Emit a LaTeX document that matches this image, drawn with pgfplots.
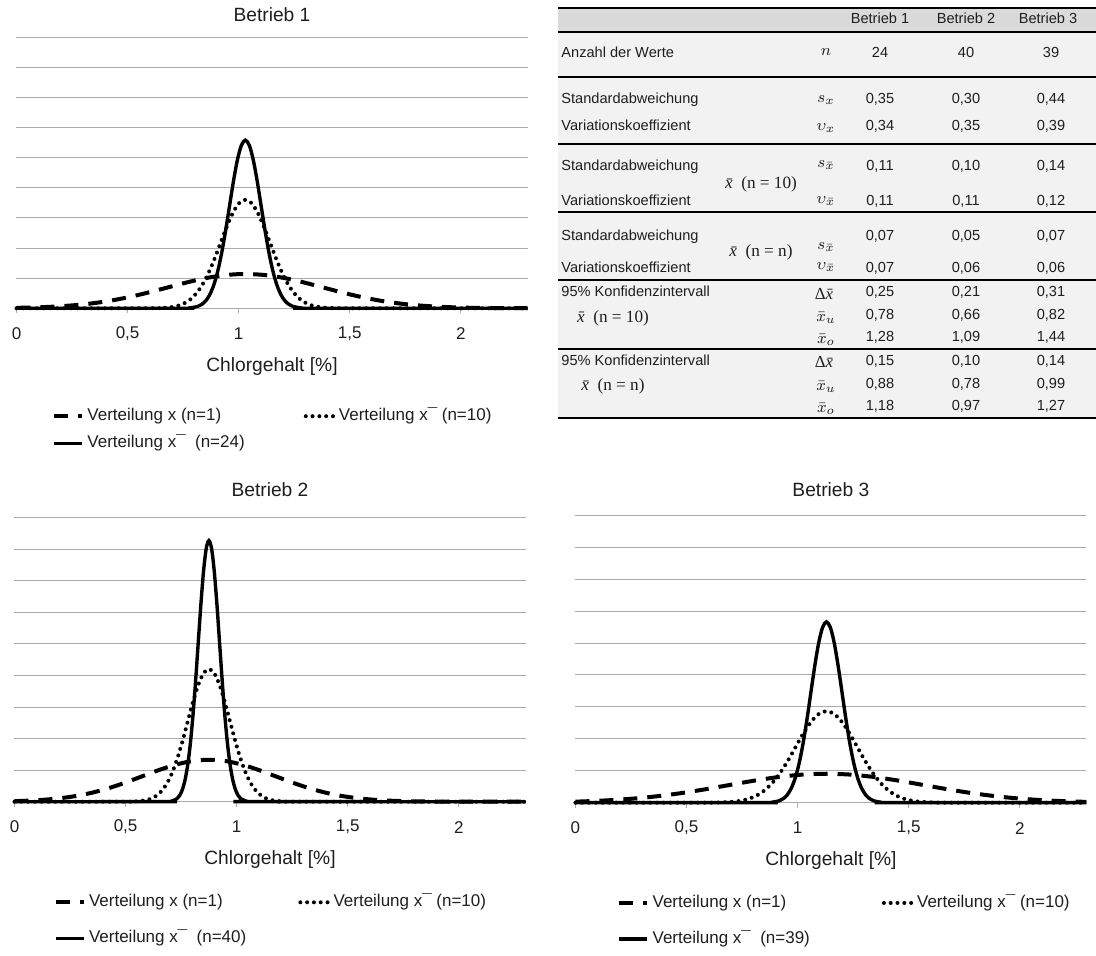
\documentclass[border=0pt]{standalone}
\usepackage{fontspec}
\setmainfont{Liberation Sans}
\newfontfamily\serifm{Liberation Serif}
\usepackage{pgfplots}
\pgfplotsset{compat=1.18}
\newcommand\titlefont{\fontsize{9.6}{11}\selectfont}
\newcommand\tickfont{\fontsize{8.5}{10}\selectfont}
\newcommand\tabfont{\fontsize{7.3}{8.5}\selectfont}
\newcommand\symfont{\fontsize{8.2}{9}\selectfont}
\newcommand\xb[1]{{\fontsize{8.6}{9}\selectfont\serifm\textit{x̄} (n = #1)}}
\newcommand\dxb{{\fontsize{8.4}{9}\selectfont\serifm Δ\textit{x̄}}}
\definecolor{hdr}{HTML}{DADADA}
\definecolor{bodyc}{HTML}{F2F2F3}
\definecolor{gridc}{HTML}{ABABAB}
\definecolor{txt}{HTML}{1E1E1E}
\pgfplotsset{
  chl/.style={
    scale only axis, width=255.5pt,
    xmin=0, xmax=2.3, ymin=0, ymax=9,
    xtick={0,0.5,1,1.5,2}, xticklabels={0,{0,5},1,{1,5},2},
    ytick={0,1,...,9}, yticklabels={},
    ymajorgrids, grid style={line width=0.5pt, color=gridc},
    axis line style={draw=none},
    xtick pos=left, tick align=outside, major tick length=2.5pt,
    x tick style={line width=0.5pt, color=gridc}, y tick style={draw=none},
    xticklabel style={font=\tickfont, text=txt, anchor=center, yshift=-10.2pt},
    xlabel={Chlorgehalt [\%]},
    xlabel style={font=\titlefont, text=txt, at={(axis description cs:0.5,0)}, anchor=center, yshift=-29pt},
    title style={font=\titlefont, text=txt, at={(axis description cs:0.5,1)}, anchor=center},
    clip=false,
    legend columns=2,
    legend cell align=left,
    legend image code/.code={\draw[##1] (0pt,0pt) -- (14pt,0pt);},
  },
  leg/.style 2 args={
    legend style={draw=none, fill=none, inner sep=0pt, outer sep=0pt,
      font=\tickfont, text=txt, anchor=north west, row sep=#1,
      nodes={inner sep=0pt, text height=6.2pt, text depth=1.8pt},
      /tikz/every odd column/.append style={column sep=1.6pt},
      /tikz/every even column/.append style={column sep=#2}},
  },
  dsh/.style={black, line width=2pt, dash pattern=on 7pt off 5pt, smooth},
  dtt/.style={black, line width=2pt, line cap=round, dash pattern=on 0pt off 3.4pt, smooth},
  sld/.style={black, line width=1.7pt, smooth},
}
\begin{document}
\begin{tikzpicture}
\path[use as bounding box] (0pt,0pt) rectangle (548pt,-477.5pt);

% ---------------- Betrieb 1 ----------------
\begin{axis}[chl, at={(8.25pt,-18.65pt)}, anchor=north west, height=135.5pt,
  title={Betrieb 1}, title style={yshift=5.3pt},
  leg={5.5pt}{29.5pt}, legend style={at={(axis description cs:0.070,-0.3687)}}]
\addplot[dsh] coordinates {
(0,0.0150) (0.0675,0.0260) (0.155,0.0501) (0.2425,0.0907) (0.33,0.1543)
(0.4175,0.2465) (0.505,0.3700) (0.5925,0.5219) (0.68,0.6913) (0.7675,0.8604)
(0.855,1.0059) (0.9425,1.1047) (1.03,1.1398) (1.1175,1.1047) (1.205,1.0059)
(1.2925,0.8604) (1.38,0.6913) (1.4675,0.5219) (1.555,0.3700) (1.6425,0.2465)
(1.73,0.1543) (1.8175,0.0907) (1.905,0.0501) (1.9925,0.0260) (2.08,0.0127)
(2.255,0.0025) (2.3,0.0016)};
\addlegendentry{Verteilung x (n=1)}
\addplot[dtt] coordinates {
(0,0) (0.5873,0.0012) (0.6426,0.0079) (0.6980,0.0400) (0.7256,0.0821)
(0.7533,0.1584) (0.7810,0.2868) (0.8086,0.4878) (0.8363,0.7795) (0.8640,1.1702)
(0.8917,1.6503) (0.9193,2.1862) (0.9470,2.7208) (0.9747,3.1810) (1.0023,3.4936)
(1.03,3.6045) (1.0577,3.4936) (1.0853,3.1810) (1.1130,2.7208) (1.1407,2.1862)
(1.1684,1.6503) (1.1960,1.1702) (1.2237,0.7795) (1.2514,0.4878) (1.2790,0.2868)
(1.3067,0.1584) (1.3344,0.0821) (1.3620,0.0400) (1.4174,0.0079) (1.4727,0.0012)
(2.3,0)};
\addlegendentry{Verteilung x¯ (n=10)}
\addplot[sld] coordinates {
(0,0) (0.7442,0.0019) (0.7799,0.0122) (0.8157,0.0620) (0.8335,0.1273)
(0.8514,0.2454) (0.8693,0.4443) (0.8871,0.7557) (0.9050,1.2077) (0.9228,1.8129)
(0.9407,2.5566) (0.9586,3.3869) (0.9764,4.2151) (0.9943,4.9280) (1.0121,5.4123)
(1.03,5.5841) (1.0479,5.4123) (1.0657,4.9280) (1.0836,4.2151) (1.1014,3.3869)
(1.1193,2.5566) (1.1372,1.8129) (1.1550,1.2077) (1.1729,0.7557) (1.1907,0.4443)
(1.2086,0.2454) (1.2265,0.1273) (1.2443,0.0620) (1.2801,0.0122) (1.3158,0.0019)
(2.3,0)};
\addlegendentry{Verteilung x¯\ \ (n=24)}
\end{axis}

% ---------------- Betrieb 2 ----------------
\begin{axis}[chl, at={(7.25pt,-258.85pt)}, anchor=north west, height=142pt,
  title={Betrieb 2}, title style={yshift=7.85pt},
  leg={10pt}{26pt}, legend style={at={(axis description cs:0.077,-0.326)}}]
\addplot[dsh] coordinates {
(0,0.0189) (0.050,0.0303) (0.125,0.0584) (0.200,0.1058) (0.275,0.1800)
(0.350,0.2876) (0.425,0.4317) (0.500,0.6088) (0.575,0.8066) (0.650,1.0038)
(0.725,1.1736) (0.800,1.2889) (0.875,1.3298) (0.950,1.2889) (1.025,1.1736)
(1.100,1.0038) (1.175,0.8066) (1.250,0.6088) (1.325,0.4317) (1.400,0.2876)
(1.475,0.1800) (1.550,0.1058) (1.625,0.0584) (1.700,0.0303) (1.775,0.0148)
(1.925,0.0029) (2.075,0.0004) (2.3,0)};
\addlegendentry{Verteilung x (n=1)}
\addplot[dtt] coordinates {
(0,0) (0.4955,0.0014) (0.5430,0.0092) (0.5904,0.0467) (0.6141,0.0958)
(0.6378,0.1848) (0.6615,0.3346) (0.6853,0.5691) (0.7090,0.9095) (0.7327,1.3652)
(0.7564,1.9253) (0.7801,2.5506) (0.8038,3.1742) (0.8276,3.7111) (0.8513,4.0758)
(0.875,4.2052) (0.8987,4.0758) (0.9224,3.7111) (0.9462,3.1742) (0.9699,2.5506)
(0.9936,1.9253) (1.0173,1.3652) (1.0410,0.9095) (1.0647,0.5691) (1.0885,0.3346)
(1.1122,0.1848) (1.1359,0.0958) (1.1596,0.0467) (1.2070,0.0092) (1.2545,0.0014)
(2.3,0)};
\addlegendentry{Verteilung x¯ (n=10)}
\addplot[sld] coordinates {
(0,0) (0.6822,0.0028) (0.7063,0.0181) (0.7304,0.0920) (0.7425,0.1886)
(0.7545,0.3637) (0.7666,0.6585) (0.7786,1.1202) (0.7907,1.7900) (0.8027,2.6871)
(0.8148,3.7894) (0.8268,5.0201) (0.8389,6.2477) (0.8509,7.3043) (0.8630,8.0221)
(0.875,8.2768) (0.8871,8.0221) (0.8991,7.3043) (0.9112,6.2477) (0.9232,5.0201)
(0.9353,3.7894) (0.9473,2.6871) (0.9594,1.7900) (0.9714,1.1202) (0.9835,0.6585)
(0.9955,0.3637) (1.0076,0.1886) (1.0196,0.0920) (1.0437,0.0181) (1.0678,0.0028)
(2.3,0)};
\addlegendentry{Verteilung x¯\ \ (n=40)}
\end{axis}

% ---------------- Betrieb 3 ----------------
\begin{axis}[chl, at={(287.7pt,-257.65pt)}, anchor=north west, height=143.7pt,
  title={Betrieb 3}, title style={yshift=6.8pt},
  leg={10pt}{36pt}, legend style={at={(axis description cs:0.0822,-0.321)}}]
\addplot[dsh] coordinates {
(0,0.0335) (0.03,0.0398) (0.14,0.0721) (0.25,0.1227) (0.36,0.1961)
(0.47,0.2944) (0.58,0.4151) (0.69,0.5499) (0.80,0.6844) (0.91,0.8001)
(1.02,0.8788) (1.13,0.9067) (1.24,0.8788) (1.35,0.8001) (1.46,0.6844)
(1.57,0.5499) (1.68,0.4151) (1.79,0.2944) (1.90,0.1961) (2.01,0.1227)
(2.12,0.0721) (2.23,0.0398) (2.3,0.0265)};
\addlegendentry{Verteilung x (n=1)}
\addplot[dtt] coordinates {
(0,0) (0.5734,0.0010) (0.6430,0.0063) (0.7126,0.0319) (0.7474,0.0653)
(0.7822,0.1260) (0.8169,0.2281) (0.8517,0.3880) (0.8865,0.6201) (0.9213,0.9308)
(0.9561,1.3127) (0.9909,1.7390) (1.0256,2.1643) (1.0604,2.5303) (1.0952,2.7790)
(1.13,2.8672) (1.1648,2.7790) (1.1996,2.5303) (1.2344,2.1643) (1.2691,1.7390)
(1.3039,1.3127) (1.3387,0.9308) (1.3735,0.6201) (1.4083,0.3880) (1.4431,0.2281)
(1.4779,0.1260) (1.5126,0.0653) (1.5474,0.0319) (1.6170,0.0063) (1.6866,0.0010)
(2.3,0)};
\addlegendentry{Verteilung x¯ (n=10)}
\addplot[sld] coordinates {
(0,0) (0.8482,0.0019) (0.8834,0.0124) (0.9186,0.0629) (0.9362,0.1290)
(0.9539,0.2488) (0.9715,0.4505) (0.9891,0.7663) (1.0067,1.2246) (1.0243,1.8382)
(1.0419,2.5923) (1.0595,3.4343) (1.0772,4.2741) (1.0948,4.9969) (1.1124,5.4880)
(1.13,5.6622) (1.1476,5.4880) (1.1652,4.9969) (1.1828,4.2741) (1.2005,3.4343)
(1.2181,2.5923) (1.2357,1.8382) (1.2533,1.2246) (1.2709,0.7663) (1.2885,0.4505)
(1.3061,0.2488) (1.3238,0.1290) (1.3414,0.0629) (1.3766,0.0124) (1.4118,0.0019)
(2.3,0)};
\addlegendentry{Verteilung x¯\ \ (n=39)}
\end{axis}

% ---------------- Table ----------------
\begin{scope}[x=0.5pt, y=-0.5pt, every node/.style={inner sep=0pt, font=\tabfont, text=txt, text height=5.3pt, text depth=1.5pt},
  sym/.style={font=\symfont, text height=5.5pt, text depth=1.5pt}]
\fill[hdr] (558,8) rectangle (1096,31.7);
\fill[bodyc] (558,31.7) rectangle (1096,418);
\foreach \yy in {8,31.7,77.3,144.3,212.3,280,349,418}
  \draw[line width=1pt, black] (558,\yy) -- (1096,\yy);
% header
\node at (880,20) {Betrieb 1};
\node at (966,20) {Betrieb 2};
\node at (1048,20) {Betrieb 3};
% rows
\node[anchor=west] at (561,53.3) {Anzahl der Werte};
\node[sym] at (826,51) {$n$};
\node at (880,53.3) {24}; \node at (966,53.3) {40}; \node at (1051,53.3) {39};

\node[anchor=west] at (561,99.3) {Standardabweichung};
\node[sym] at (826,98) {$s_x$};
\node at (880,99.3) {0,35}; \node at (966,99.3) {0,30}; \node at (1051,99.3) {0,44};
\node[anchor=west] at (561,126.7) {Variationskoeffizient};
\node[sym] at (826,126.7) {$\upsilon_x$};
\node at (880,126.7) {0,34}; \node at (966,126.7) {0,35}; \node at (1051,126.7) {0,39};

\node[anchor=west] at (561,166.7) {Standardabweichung};
\node[sym] at (826,163) {$s_{\bar{x}}$};
\node at (880,166.7) {0,11}; \node at (966,166.7) {0,10}; \node at (1051,166.7) {0,14};
\node[sym] at (761,184.5) {\xb{10}};
\node[anchor=west] at (561,201.7) {Variationskoeffizient};
\node[sym] at (826,199) {$\upsilon_{\bar{x}}$};
\node at (880,201.7) {0,11}; \node at (966,201.7) {0,11}; \node at (1051,201.7) {0,12};

\node[anchor=west] at (561,236.7) {Standardabweichung};
\node[sym] at (826,245) {$s_{\bar{x}}$};
\node at (880,236.7) {0,07}; \node at (966,236.7) {0,05}; \node at (1051,236.7) {0,07};
\node[sym] at (761,252.5) {\xb{n}};
\node[anchor=west] at (561,269) {Variationskoeffizient};
\node[sym] at (826,265) {$\upsilon_{\bar{x}}$};
\node at (880,269) {0,07}; \node at (966,269) {0,06}; \node at (1051,269) {0,06};

\node[anchor=west] at (561,293) {95\% Konfidenzintervall};
\node[sym] at (826,295) {\dxb};
\node at (880,293) {0,25}; \node at (966,293) {0,21}; \node at (1051,293) {0,31};
\node[sym] at (613,318) {\xb{10}};
\node[sym] at (826,317) {$\bar{x}_u$};
\node at (880,315.7) {0,78}; \node at (966,315.7) {0,66}; \node at (1051,315.7) {0,82};
\node[sym] at (826,339) {$\bar{x}_o$};
\node at (880,338) {1,28}; \node at (966,338) {1,09}; \node at (1051,338) {1,44};

\node[anchor=west] at (561,361.7) {95\% Konfidenzintervall};
\node[sym] at (826,363.5) {\dxb};
\node at (880,361.7) {0,15}; \node at (966,361.7) {0,10}; \node at (1051,361.7) {0,14};
\node[sym] at (613,386.5) {\xb{n}};
\node[sym] at (826,386) {$\bar{x}_u$};
\node at (880,384.4) {0,88}; \node at (966,384.4) {0,78}; \node at (1051,384.4) {0,99};
\node[sym] at (826,408) {$\bar{x}_o$};
\node at (880,407) {1,18}; \node at (966,407) {0,97}; \node at (1051,407) {1,27};
\end{scope}
\end{tikzpicture}
\end{document}
